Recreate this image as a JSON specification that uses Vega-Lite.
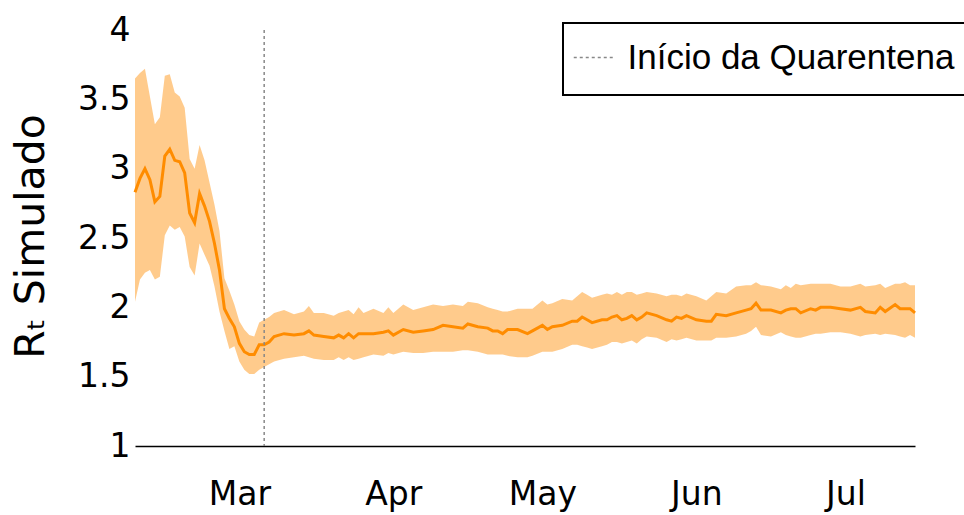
{
  "$schema": "https://vega.github.io/schema/vega-lite/v6.json",
  "width": 780,
  "height": 416,
  "autosize": {"type": "none"},
  "padding": {"left": 135, "top": 30, "right": 49, "bottom": 69},
  "background": "white",
  "config": {
    "view": {"stroke": null},
    "font": "DejaVu Sans"
  },
  "datasets": {
    "rt": [
      {"d": "2020-02-09", "m": 2.83, "lo": 2.04, "hi": 3.65},
      {"d": "2020-02-10", "m": 2.93, "lo": 2.20, "hi": 3.69},
      {"d": "2020-02-11", "m": 3.00, "lo": 2.25, "hi": 3.72},
      {"d": "2020-02-12", "m": 2.92, "lo": 2.27, "hi": 3.52},
      {"d": "2020-02-13", "m": 2.76, "lo": 2.20, "hi": 3.32},
      {"d": "2020-02-14", "m": 2.80, "lo": 2.22, "hi": 3.37},
      {"d": "2020-02-15", "m": 3.09, "lo": 2.52, "hi": 3.67},
      {"d": "2020-02-16", "m": 3.14, "lo": 2.59, "hi": 3.68},
      {"d": "2020-02-17", "m": 3.06, "lo": 2.56, "hi": 3.55},
      {"d": "2020-02-18", "m": 3.05, "lo": 2.58, "hi": 3.52},
      {"d": "2020-02-19", "m": 2.97, "lo": 2.51, "hi": 3.44},
      {"d": "2020-02-20", "m": 2.68, "lo": 2.29, "hi": 3.07},
      {"d": "2020-02-21", "m": 2.61, "lo": 2.23, "hi": 3.00},
      {"d": "2020-02-22", "m": 2.82, "lo": 2.46, "hi": 3.17},
      {"d": "2020-02-23", "m": 2.73, "lo": 2.38, "hi": 3.06},
      {"d": "2020-02-24", "m": 2.62, "lo": 2.30, "hi": 2.90},
      {"d": "2020-02-25", "m": 2.46, "lo": 2.15, "hi": 2.74},
      {"d": "2020-02-26", "m": 2.27, "lo": 1.97, "hi": 2.55},
      {"d": "2020-02-27", "m": 1.99, "lo": 1.83, "hi": 2.21},
      {"d": "2020-02-28", "m": 1.92, "lo": 1.70, "hi": 2.12},
      {"d": "2020-02-29", "m": 1.86, "lo": 1.72, "hi": 2.02},
      {"d": "2020-03-01", "m": 1.74, "lo": 1.61, "hi": 1.90},
      {"d": "2020-03-02", "m": 1.68, "lo": 1.55, "hi": 1.84},
      {"d": "2020-03-03", "m": 1.66, "lo": 1.52, "hi": 1.80},
      {"d": "2020-03-04", "m": 1.66, "lo": 1.52, "hi": 1.79},
      {"d": "2020-03-05", "m": 1.73, "lo": 1.55, "hi": 1.89},
      {"d": "2020-03-06", "m": 1.73, "lo": 1.57, "hi": 1.91},
      {"d": "2020-03-07", "m": 1.75, "lo": 1.59, "hi": 1.93},
      {"d": "2020-03-08", "m": 1.79, "lo": 1.61, "hi": 1.96},
      {"d": "2020-03-10", "m": 1.81, "lo": 1.63, "hi": 1.98},
      {"d": "2020-03-12", "m": 1.80, "lo": 1.64, "hi": 1.95},
      {"d": "2020-03-14", "m": 1.81, "lo": 1.65, "hi": 1.97},
      {"d": "2020-03-15", "m": 1.83, "lo": 1.64, "hi": 2.01},
      {"d": "2020-03-16", "m": 1.80, "lo": 1.63, "hi": 1.96},
      {"d": "2020-03-18", "m": 1.79, "lo": 1.62, "hi": 1.96},
      {"d": "2020-03-20", "m": 1.78, "lo": 1.62, "hi": 1.94},
      {"d": "2020-03-21", "m": 1.80, "lo": 1.64, "hi": 1.96},
      {"d": "2020-03-22", "m": 1.78, "lo": 1.62, "hi": 1.97},
      {"d": "2020-03-23", "m": 1.81, "lo": 1.64, "hi": 1.98},
      {"d": "2020-03-24", "m": 1.78, "lo": 1.62, "hi": 1.95},
      {"d": "2020-03-25", "m": 1.81, "lo": 1.63, "hi": 2.00},
      {"d": "2020-03-26", "m": 1.81, "lo": 1.64, "hi": 1.96},
      {"d": "2020-03-28", "m": 1.81, "lo": 1.66, "hi": 1.99},
      {"d": "2020-03-30", "m": 1.82, "lo": 1.65, "hi": 1.96},
      {"d": "2020-03-31", "m": 1.83, "lo": 1.67, "hi": 2.00},
      {"d": "2020-04-01", "m": 1.80, "lo": 1.66, "hi": 1.96},
      {"d": "2020-04-03", "m": 1.84, "lo": 1.68, "hi": 2.02},
      {"d": "2020-04-05", "m": 1.82, "lo": 1.67, "hi": 1.98},
      {"d": "2020-04-07", "m": 1.83, "lo": 1.67, "hi": 2.00},
      {"d": "2020-04-09", "m": 1.84, "lo": 1.68, "hi": 2.02},
      {"d": "2020-04-11", "m": 1.87, "lo": 1.68, "hi": 2.01},
      {"d": "2020-04-13", "m": 1.86, "lo": 1.68, "hi": 2.02},
      {"d": "2020-04-15", "m": 1.85, "lo": 1.69, "hi": 2.01},
      {"d": "2020-04-16", "m": 1.88, "lo": 1.69, "hi": 2.04},
      {"d": "2020-04-18", "m": 1.86, "lo": 1.68, "hi": 2.03},
      {"d": "2020-04-20", "m": 1.85, "lo": 1.66, "hi": 2.00},
      {"d": "2020-04-21", "m": 1.83, "lo": 1.66, "hi": 1.99},
      {"d": "2020-04-22", "m": 1.83, "lo": 1.66, "hi": 1.98},
      {"d": "2020-04-23", "m": 1.81, "lo": 1.66, "hi": 1.97},
      {"d": "2020-04-24", "m": 1.84, "lo": 1.65, "hi": 1.97},
      {"d": "2020-04-26", "m": 1.84, "lo": 1.64, "hi": 1.99},
      {"d": "2020-04-28", "m": 1.81, "lo": 1.64, "hi": 1.99},
      {"d": "2020-04-29", "m": 1.83, "lo": 1.65, "hi": 1.99},
      {"d": "2020-05-01", "m": 1.87, "lo": 1.68, "hi": 2.05},
      {"d": "2020-05-02", "m": 1.84, "lo": 1.68, "hi": 2.02},
      {"d": "2020-05-03", "m": 1.86, "lo": 1.68, "hi": 2.03},
      {"d": "2020-05-05", "m": 1.87, "lo": 1.70, "hi": 2.06},
      {"d": "2020-05-07", "m": 1.90, "lo": 1.73, "hi": 2.05},
      {"d": "2020-05-08", "m": 1.90, "lo": 1.73, "hi": 2.08},
      {"d": "2020-05-09", "m": 1.93, "lo": 1.72, "hi": 2.11},
      {"d": "2020-05-10", "m": 1.91, "lo": 1.71, "hi": 2.09},
      {"d": "2020-05-11", "m": 1.89, "lo": 1.70, "hi": 2.07},
      {"d": "2020-05-13", "m": 1.91, "lo": 1.72, "hi": 2.09},
      {"d": "2020-05-14", "m": 1.91, "lo": 1.73, "hi": 2.10},
      {"d": "2020-05-15", "m": 1.93, "lo": 1.75, "hi": 2.09},
      {"d": "2020-05-16", "m": 1.94, "lo": 1.75, "hi": 2.11},
      {"d": "2020-05-17", "m": 1.91, "lo": 1.74, "hi": 2.09},
      {"d": "2020-05-18", "m": 1.92, "lo": 1.75, "hi": 2.11},
      {"d": "2020-05-19", "m": 1.94, "lo": 1.76, "hi": 2.11},
      {"d": "2020-05-20", "m": 1.91, "lo": 1.74, "hi": 2.09},
      {"d": "2020-05-21", "m": 1.93, "lo": 1.77, "hi": 2.10},
      {"d": "2020-05-22", "m": 1.96, "lo": 1.79, "hi": 2.11},
      {"d": "2020-05-24", "m": 1.94, "lo": 1.78, "hi": 2.10},
      {"d": "2020-05-26", "m": 1.91, "lo": 1.75, "hi": 2.08},
      {"d": "2020-05-27", "m": 1.90, "lo": 1.77, "hi": 2.09},
      {"d": "2020-05-28", "m": 1.93, "lo": 1.76, "hi": 2.09},
      {"d": "2020-05-29", "m": 1.92, "lo": 1.77, "hi": 2.08},
      {"d": "2020-05-30", "m": 1.94, "lo": 1.78, "hi": 2.10},
      {"d": "2020-06-01", "m": 1.91, "lo": 1.76, "hi": 2.08},
      {"d": "2020-06-03", "m": 1.90, "lo": 1.76, "hi": 2.05},
      {"d": "2020-06-04", "m": 1.90, "lo": 1.76, "hi": 2.08},
      {"d": "2020-06-05", "m": 1.95, "lo": 1.78, "hi": 2.11},
      {"d": "2020-06-07", "m": 1.94, "lo": 1.78, "hi": 2.10},
      {"d": "2020-06-09", "m": 1.96, "lo": 1.79, "hi": 2.15},
      {"d": "2020-06-11", "m": 1.98, "lo": 1.81, "hi": 2.16},
      {"d": "2020-06-12", "m": 1.99, "lo": 1.83, "hi": 2.16},
      {"d": "2020-06-13", "m": 2.03, "lo": 1.86, "hi": 2.18},
      {"d": "2020-06-14", "m": 1.98, "lo": 1.80, "hi": 2.16},
      {"d": "2020-06-16", "m": 1.98, "lo": 1.79, "hi": 2.15},
      {"d": "2020-06-18", "m": 1.96, "lo": 1.82, "hi": 2.13},
      {"d": "2020-06-19", "m": 1.98, "lo": 1.80, "hi": 2.16},
      {"d": "2020-06-20", "m": 1.99, "lo": 1.79, "hi": 2.14},
      {"d": "2020-06-21", "m": 1.99, "lo": 1.78, "hi": 2.17},
      {"d": "2020-06-22", "m": 1.96, "lo": 1.78, "hi": 2.16},
      {"d": "2020-06-24", "m": 1.99, "lo": 1.80, "hi": 2.17},
      {"d": "2020-06-25", "m": 1.98, "lo": 1.81, "hi": 2.17},
      {"d": "2020-06-26", "m": 2.00, "lo": 1.81, "hi": 2.17},
      {"d": "2020-06-28", "m": 2.00, "lo": 1.82, "hi": 2.17},
      {"d": "2020-06-30", "m": 1.99, "lo": 1.82, "hi": 2.15},
      {"d": "2020-07-02", "m": 1.98, "lo": 1.81, "hi": 2.15},
      {"d": "2020-07-04", "m": 2.00, "lo": 1.79, "hi": 2.17},
      {"d": "2020-07-05", "m": 1.97, "lo": 1.80, "hi": 2.15},
      {"d": "2020-07-07", "m": 1.96, "lo": 1.81, "hi": 2.16},
      {"d": "2020-07-08", "m": 2.00, "lo": 1.80, "hi": 2.17},
      {"d": "2020-07-09", "m": 1.97, "lo": 1.81, "hi": 2.14},
      {"d": "2020-07-11", "m": 2.02, "lo": 1.80, "hi": 2.17},
      {"d": "2020-07-12", "m": 1.99, "lo": 1.79, "hi": 2.17},
      {"d": "2020-07-13", "m": 1.99, "lo": 1.78, "hi": 2.18},
      {"d": "2020-07-14", "m": 1.99, "lo": 1.80, "hi": 2.16},
      {"d": "2020-07-15", "m": 1.96, "lo": 1.78, "hi": 2.16}
    ],
    "quarantine": [
      {"d": "2020-03-06", "label": "Início da Quarentena"}
    ]
  },
  "encoding": {
    "x": {
      "field": "d",
      "type": "temporal",
      "scale": {
        "type": "utc",
        "domain": [1581206400000, 1594771200000]
      },
      "axis": {
        "title": null,
        "labelExpr": "utcFormat(datum.value, '%b')",
        "tickCount": {"interval": "month", "step": 1},
        "ticks": false,
        "grid": false,
        "domain": true,
        "domainColor": "#000000",
        "domainWidth": 1.5,
        "labelFont": "DejaVu Sans",
        "labelFontSize": 33,
        "labelColor": "#000000",
        "labelPadding": 32,
        "labelFlush": false,
        "labelOverlap": false
      }
    }
  },
  "layer": [
    {
      "data": {"name": "rt"},
      "mark": {"type": "area", "fill": "#FF8C00", "fillOpacity": 0.45},
      "encoding": {
        "y": {
          "field": "lo",
          "type": "quantitative",
          "scale": {"domain": [1, 4], "nice": false, "zero": false},
          "axis": {
            "title": "Rₜ Simulado",
            "titleFont": "DejaVu Sans",
            "titleFontSize": 41,
            "titleFontWeight": "normal",
            "titleColor": "#000000",
            "titleAngle": 270,
            "titleAlign": "center",
            "titleBaseline": "alphabetic",
            "titleX": -92,
            "titleY": 206,
            "values": [1, 1.5, 2, 2.5, 3, 3.5, 4],
            "format": "~g",
            "ticks": false,
            "domain": false,
            "grid": false,
            "labelFont": "DejaVu Sans",
            "labelFontSize": 33,
            "labelColor": "#000000",
            "labelPadding": 5
          }
        },
        "y2": {"field": "hi"}
      }
    },
    {
      "data": {"name": "rt"},
      "mark": {"type": "line", "stroke": "#FF8C00", "strokeWidth": 3},
      "encoding": {
        "y": {"field": "m", "type": "quantitative"}
      }
    },
    {
      "data": {"name": "quarantine"},
      "mark": {"type": "rule", "strokeDash": [3, 3], "strokeWidth": 1.5},
      "encoding": {
        "color": {
          "field": "label",
          "type": "nominal",
          "scale": {"range": ["#888888"]},
          "legend": {
            "title": null,
            "orient": "none",
            "legendX": 428,
            "legendY": -7,
            "strokeColor": "#000000",
            "fillColor": "#ffffff",
            "padding": 10,
            "symbolType": "M-1,0H0.684M-1,1.03",
            "symbolSize": 2256,
            "symbolStrokeWidth": 1.5,
            "symbolDash": [3, 3],
            "symbolStrokeColor": "#888888",
            "symbolFillColor": "transparent",
            "labelFont": "Liberation Sans",
            "labelFontSize": 35,
            "labelColor": "#000000",
            "labelOffset": 5.5,
            "labelLimit": 500,
            "encode": {
              "legend": {"update": {"strokeWidth": {"value": 2}}}
            }
          }
        }
      }
    }
  ]
}
